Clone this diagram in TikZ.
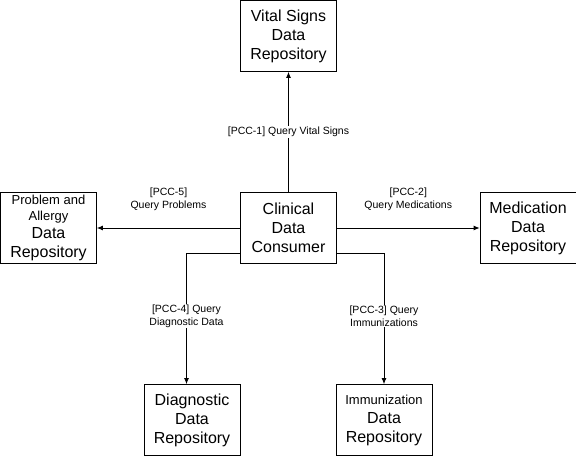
\documentclass[tikz,border=0pt]{standalone}
\usepackage{fontspec}
\setmainfont{Liberation Sans}
\usepackage{tikz}
\usetikzlibrary{arrows.meta,positioning}

\newcommand{\boxfont}{\fontsize{16}{19}\selectfont}
\newcommand{\smallbox}{\fontsize{13}{16}\selectfont}

\begin{document}
\begin{tikzpicture}[x=1pt, y=-1pt,
        box/.style={draw, line width=0.8pt, minimum width=96pt, minimum height=71pt,
                    inner sep=0pt, align=center, font=\boxfont},
        flow/.style={draw, line width=0.8pt, -{Latex[length=6pt,width=5pt]}},
        lbl/.style={font=\fontsize{10.5}{13}\selectfont, align=center, inner sep=1pt}]
        \useasboundingbox (0,0) rectangle (576,457);

        % Consumer in the middle
        \node[box] (cons) at (288.5, 228) {Clinical\\Data\\Consumer};

        % Repositories
        \node[box] (vital) at (288.5, 36)  {Vital Signs\\Data\\Repository};
        \node[box] (prob)  at (48.5, 228)  {{\smallbox Problem and}\\[-3pt]{\smallbox Allergy}\\[-1pt]Data\\Repository};
        \node[box] (med)   at (528, 228)   {Medication\\Data\\Repository};
        \node[box] (diag)  at (192, 420)   {Diagnostic\\Data\\Repository};
        \node[box] (imm)   at (384, 420)   {{\smallbox Immunization}\\Data\\Repository};

        % Queries
        \draw[flow] (cons) -- node[lbl, fill=white] {[PCC-1] Query Vital Signs} (vital);
        \draw[flow] (cons) -- node[lbl, above=16pt] {[PCC-5]\\Query Problems} (prob);
        \draw[flow] (cons) -- node[lbl, above=16pt] {[PCC-2]\\Query Medications} (med);
        \draw[flow] ([yshift=-25pt]cons.west) -| node[lbl, fill=white, pos=0.74] {[PCC-4] Query\\Diagnostic Data} ([xshift=-5.5pt]diag.north);
        \draw[flow] ([yshift=-25pt]cons.east) -| node[lbl, fill=white, pos=0.74] {[PCC-3] Query\\Immunizations} (imm.north);
    \end{tikzpicture}
\end{document}
